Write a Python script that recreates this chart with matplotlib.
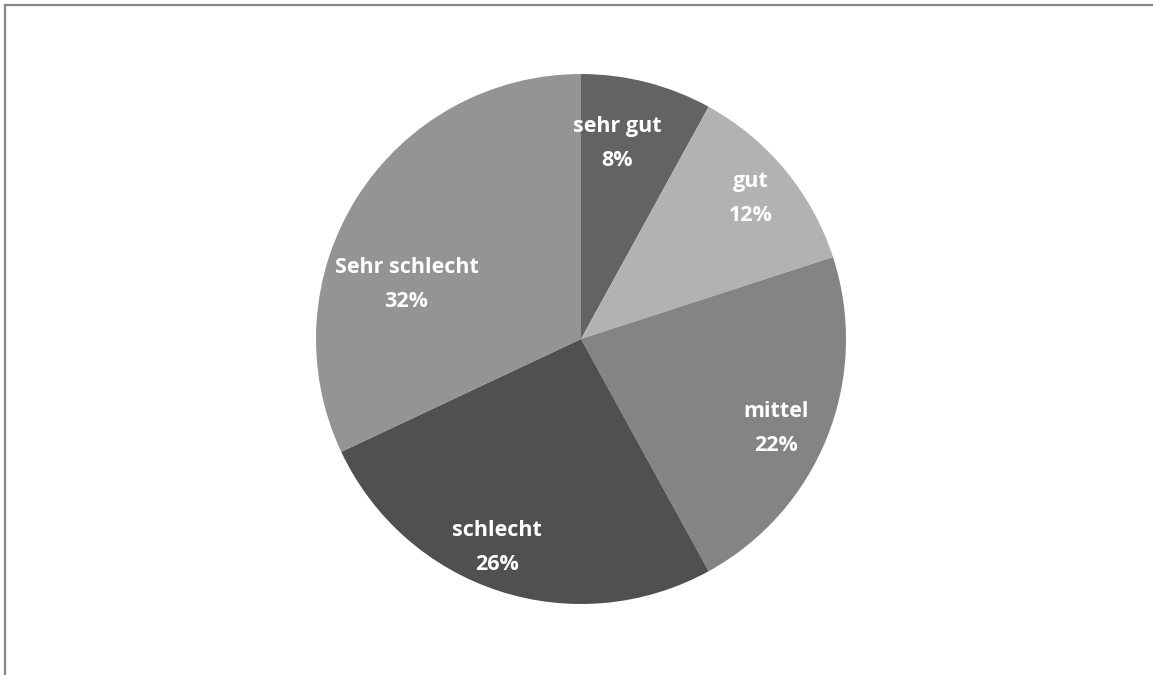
import numpy as np
import matplotlib.pyplot as plt
from matplotlib.lines import Line2D

labels = ['sehr gut', 'gut', 'mittel', 'schlecht', 'Sehr schlecht']
shares = [8, 12, 22, 26, 32]
colors = ['#636363', '#b2b2b2', '#848484', '#505050', '#949494']
# how far out each label sits (fraction of radius) and a small angle nudge in degrees
label_r = [0.75, 0.83, 0.81, 0.85, 0.69]
label_nudge = [4, 0, -3, -4, 15]

W, H = 1153, 675
fig = plt.figure(figsize=(W / 100, H / 100), dpi=100)

cx, cy, r = 581, 339, 265
ax = fig.add_axes([(cx - r) / W, (H - cy - r) / H, 2 * r / W, 2 * r / H])
wedges, _ = ax.pie(shares, colors=colors, startangle=90, counterclock=False,
                   radius=1, wedgeprops=dict(linewidth=0))
ax.set_xlim(-1, 1)
ax.set_ylim(-1, 1)
ax.set_aspect('equal')
ax.axis('off')

for w, lab, s, d, nudge in zip(wedges, labels, shares, label_r, label_nudge):
    mid = np.deg2rad((w.theta1 + w.theta2) / 2 + nudge)
    ax.text(d * np.cos(mid), d * np.sin(mid), f'{lab}\n{s}%',
            ha='center', va='center', color='white', fontsize=15.5,
            fontweight='bold', family=['Open Sans', 'DejaVu Sans'], linespacing=1.8)

# chart-area frame: top and left edges only
fig.add_artist(Line2D([4.5 / W, 1], [1 - 4.5 / H] * 2, color='#878787', lw=1.6))
fig.add_artist(Line2D([4.5 / W] * 2, [0, 1 - 4.5 / H], color='#878787', lw=1.6))

fig.savefig('out.png', dpi=100)
